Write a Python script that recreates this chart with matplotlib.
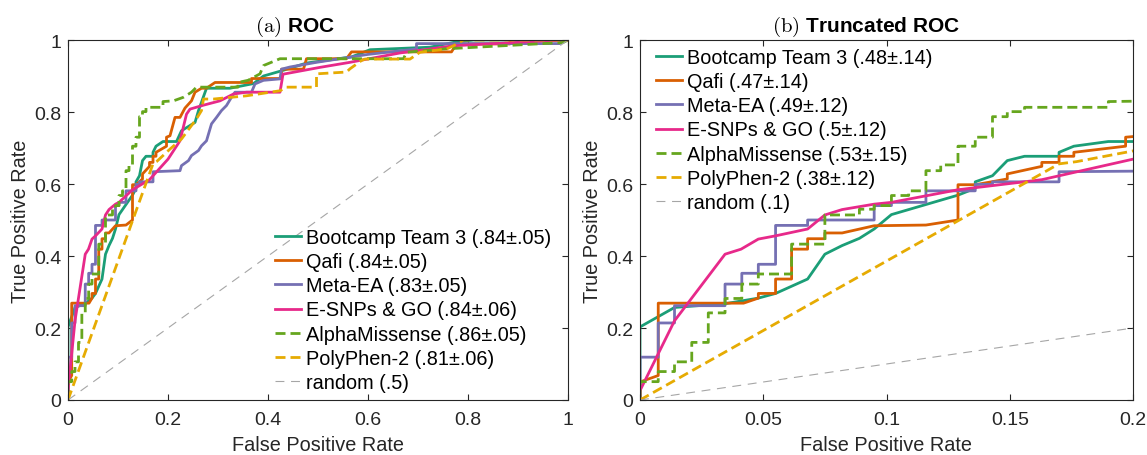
import matplotlib
matplotlib.use("Agg")
import matplotlib.pyplot as plt

plt.rcParams['font.family'] = ['Liberation Sans', 'DejaVu Sans']
plt.rcParams['mathtext.fontset'] = 'cm'

# ---------------- data ----------------
methods = ["Bootcamp Team 3", "Qafi", "Meta-EA", "E-SNPs & GO", "AlphaMissense", "PolyPhen-2"]
auc_full = ["(.84±.05)", "(.84±.05)", "(.83±.05)", "(.84±.06)", "(.86±.05)", "(.81±.06)"]
auc_trunc = ["(.48±.14)", "(.47±.14)", "(.49±.12)", "(.5±.12)", "(.53±.15)", "(.38±.12)"]
random_full = "random (.5)"
random_trunc = "random (.1)"

fpr_bootcamp = [0, 0, 0.014, 0.035, 0.048, 0.055, 0.068, 0.075, 0.082, 0.089,
                0.095, 0.102, 0.129, 0.136, 0.136, 0.143, 0.149, 0.156, 0.170, 0.170,
                0.176, 0.190, 0.217, 0.227, 0.254, 0.261, 0.277, 0.324, 0.371, 0.391,
                0.431, 0.477, 0.567, 0.604, 0.724, 0.777, 0.811, 1.0]
tpr_bootcamp = [0, 0.203, 0.257, 0.268, 0.283, 0.296, 0.336, 0.405, 0.429, 0.449,
                0.475, 0.515, 0.569, 0.588, 0.606, 0.623, 0.665, 0.677, 0.677, 0.688,
                0.705, 0.718, 0.718, 0.748, 0.771, 0.804, 0.866, 0.866, 0.879, 0.900,
                0.916, 0.936, 0.953, 0.973, 0.980, 0.995, 1.0, 1.0]

fpr_qafi = [0, 0, 0.0074, 0.0074, 0.042, 0.048, 0.048, 0.055, 0.055, 0.0615,
            0.0615, 0.068, 0.068, 0.075, 0.075, 0.082, 0.095, 0.116, 0.129, 0.129,
            0.136, 0.149, 0.149, 0.163, 0.163, 0.170, 0.170, 0.176, 0.176, 0.197,
            0.197, 0.204, 0.214, 0.224, 0.234, 0.247, 0.254, 0.267, 0.277, 0.294,
            0.367, 0.367, 0.427, 0.427, 0.471, 0.477, 0.557, 0.567, 0.767, 0.777,
            0.884, 0.884, 1.0]
tpr_qafi = [0, 0.05, 0.068, 0.269, 0.269, 0.283, 0.296, 0.296, 0.336, 0.336,
            0.419, 0.419, 0.448, 0.448, 0.464, 0.464, 0.484, 0.486, 0.5, 0.598,
            0.598, 0.614, 0.628, 0.649, 0.66, 0.66, 0.677, 0.677, 0.688, 0.705,
            0.73, 0.734, 0.785, 0.785, 0.811, 0.831, 0.855, 0.866, 0.866, 0.882,
            0.882, 0.893, 0.893, 0.919, 0.919, 0.948, 0.948, 0.967, 0.967, 0.989,
            0.989, 1.0, 1.0]

fpr_metaea = [0, 0, 0.0074, 0.0074, 0.014, 0.014, 0.0345, 0.0345, 0.0413, 0.0413,
              0.048, 0.048, 0.055, 0.055, 0.068, 0.068, 0.095, 0.095, 0.102, 0.102,
              0.116, 0.116, 0.136, 0.136, 0.143, 0.143, 0.170, 0.170, 0.224, 0.227,
              0.241, 0.247, 0.261, 0.267, 0.277, 0.287, 0.297, 0.307, 0.317, 0.327,
              0.334, 0.367, 0.374, 0.391, 0.424, 0.427, 0.444, 0.497, 0.600, 0.697,
              0.697, 0.984, 0.984, 1.0]
tpr_metaea = [0, 0.119, 0.119, 0.214, 0.214, 0.262, 0.262, 0.322, 0.322, 0.352,
              0.352, 0.377, 0.377, 0.485, 0.485, 0.50, 0.50, 0.54, 0.54, 0.549,
              0.549, 0.581, 0.581, 0.599, 0.599, 0.606, 0.606, 0.634, 0.637, 0.651,
              0.665, 0.679, 0.693, 0.706, 0.720, 0.767, 0.785, 0.804, 0.818, 0.841,
              0.855, 0.855, 0.878, 0.888, 0.892, 0.919, 0.925, 0.938, 0.960, 0.975,
              0.990, 0.990, 1.0, 1.0]

fpr_esnps = [0, 0, 0.014, 0.0345, 0.041, 0.048, 0.055, 0.068, 0.075, 0.082,
             0.095, 0.102, 0.129, 0.163, 0.200, 0.224, 0.237, 0.244, 0.271, 0.304,
             0.331, 0.357, 0.424, 0.430, 0.504, 0.564, 0.664, 0.771, 0.964, 1.0]
tpr_esnps = [0, 0.026, 0.220, 0.405, 0.419, 0.447, 0.456, 0.475, 0.514, 0.529,
             0.544, 0.549, 0.584, 0.612, 0.669, 0.720, 0.794, 0.808, 0.819, 0.831,
             0.850, 0.855, 0.855, 0.905, 0.924, 0.938, 0.964, 0.984, 0.998, 1.0]

fpr_alpha = [0, 0, 0.0074, 0.0074, 0.014, 0.014, 0.021, 0.021, 0.0277, 0.0277,
             0.0345, 0.0345, 0.0413, 0.0413, 0.048, 0.048, 0.0615, 0.0615, 0.075, 0.075,
             0.089, 0.089, 0.095, 0.095, 0.102, 0.102, 0.109, 0.109, 0.116, 0.116,
             0.122, 0.122, 0.129, 0.129, 0.136, 0.136, 0.143, 0.143, 0.149, 0.149,
             0.156, 0.156, 0.190, 0.190, 0.211, 0.231, 0.247, 0.257, 0.340, 0.340,
             0.360, 0.384, 0.391, 0.424, 0.671, 0.677, 0.750, 0.990, 1.0]
tpr_alpha = [0, 0.051, 0.051, 0.079, 0.079, 0.106, 0.106, 0.160, 0.160, 0.242,
             0.242, 0.282, 0.282, 0.322, 0.322, 0.350, 0.350, 0.433, 0.433, 0.514,
             0.514, 0.530, 0.530, 0.540, 0.540, 0.568, 0.568, 0.581, 0.581, 0.637,
             0.637, 0.653, 0.653, 0.705, 0.705, 0.730, 0.730, 0.787, 0.787, 0.801,
             0.801, 0.813, 0.813, 0.829, 0.831, 0.841, 0.855, 0.869, 0.869, 0.882,
             0.888, 0.906, 0.929, 0.948, 0.948, 0.966, 0.975, 0.993, 1.0]

fpr_polyphen = [0, 0.170, 0.177, 0.204, 0.227, 0.257, 0.267, 0.271, 0.291, 0.357,
                0.424, 0.437, 0.497, 0.497, 0.557, 0.564, 0.587, 0.594, 0.684, 0.704,
                0.757, 0.771, 0.791, 1.0]
tpr_polyphen = [0, 0.656, 0.662, 0.697, 0.725, 0.781, 0.804, 0.836, 0.836, 0.845,
                0.859, 0.869, 0.869, 0.906, 0.911, 0.920, 0.943, 0.947, 0.947, 0.966,
                0.975, 0.984, 1.0, 1.0]

random_x = [0, 1]
random_y = [0, 1]

curves = [(fpr_bootcamp, tpr_bootcamp), (fpr_qafi, tpr_qafi), (fpr_metaea, tpr_metaea),
          (fpr_esnps, tpr_esnps), (fpr_alpha, tpr_alpha), (fpr_polyphen, tpr_polyphen)]

colors = ["#1B9E77", "#D95F02", "#7570B3", "#E7298A", "#66A61E", "#E6AB02"]
dashed = [False, False, False, False, True, True]

axis_col = "#262626"

fig = plt.figure(figsize=(11.47, 4.56), dpi=100)
W, H = 1147, 456
ax1 = fig.add_axes([68 / W, (H - 401) / H, 500 / W, 360 / H])
ax2 = fig.add_axes([640 / W, (H - 401) / H, 493 / W, 360 / H])


def draw(ax, aucs, rnd_label):
    for (x, y), c, d, m, a in zip(curves, colors, dashed, methods, aucs):
        ln, = ax.plot(x, y, color=c, lw=2.0, label=f"{m} {a}")
        if d:
            ln.set_dashes((3.6, 1.8))
    rl, = ax.plot(random_x, random_y, color="#A6A6A6", lw=0.8, label=rnd_label)
    rl.set_dashes((8, 6))
    for s in ax.spines.values():
        s.set_color(axis_col)
        s.set_linewidth(0.8)
    ax.tick_params(direction='in', length=4, width=0.8, colors=axis_col,
                   labelsize=14, top=True, right=True)
    ax.tick_params(axis='x', pad=8)
    ax.tick_params(axis='y', pad=5)
    ax.set_ylim(0, 1)
    ax.set_yticks([0, 0.2, 0.4, 0.6, 0.8, 1])
    ax.set_yticklabels(["0", "0.2", "0.4", "0.6", "0.8", "1"])
    ax.set_xlabel("False Positive Rate", fontsize=14.3, color=axis_col, labelpad=5)
    ax.set_ylabel("True Positive Rate", fontsize=14.3, color=axis_col, labelpad=2.5)


draw(ax1, auc_full, random_full)
ax1.set_xlim(0, 1)
ax1.set_xticks([0, 0.2, 0.4, 0.6, 0.8, 1])
ax1.set_xticklabels(["0", "0.2", "0.4", "0.6", "0.8", "1"])

draw(ax2, auc_trunc, random_trunc)
ax2.set_xlim(0, 0.2)
ax2.set_xticks([0, 0.05, 0.1, 0.15, 0.2])
ax2.set_xticklabels(["0", "0.05", "0.1", "0.15", "0.2"])

leg_kw = dict(frameon=False, fontsize=14.3, handlelength=1.3, handletextpad=0.25,
              labelspacing=0.26, borderpad=0, borderaxespad=0)
l1 = ax1.legend(loc='upper left', bbox_to_anchor=((275 - 68) / 500, (401 - 229) / 360), **leg_kw)
l2 = ax2.legend(loc='upper left', bbox_to_anchor=((656 - 640) / 493, (401 - 49) / 360), **leg_kw)

ax1.text((295 - 68) / 500, 1.026, r"$\mathrm{(a)}$ ROC", transform=ax1.transAxes,
         ha='center', va='baseline', fontsize=15, fontweight='bold', color='black')
ax2.text((866 - 640) / 493, 1.026, r"$\mathrm{(b)}$ Truncated ROC", transform=ax2.transAxes,
         ha='center', va='baseline', fontsize=15, fontweight='bold', color='black')

fig.savefig("out.png", dpi=100)
